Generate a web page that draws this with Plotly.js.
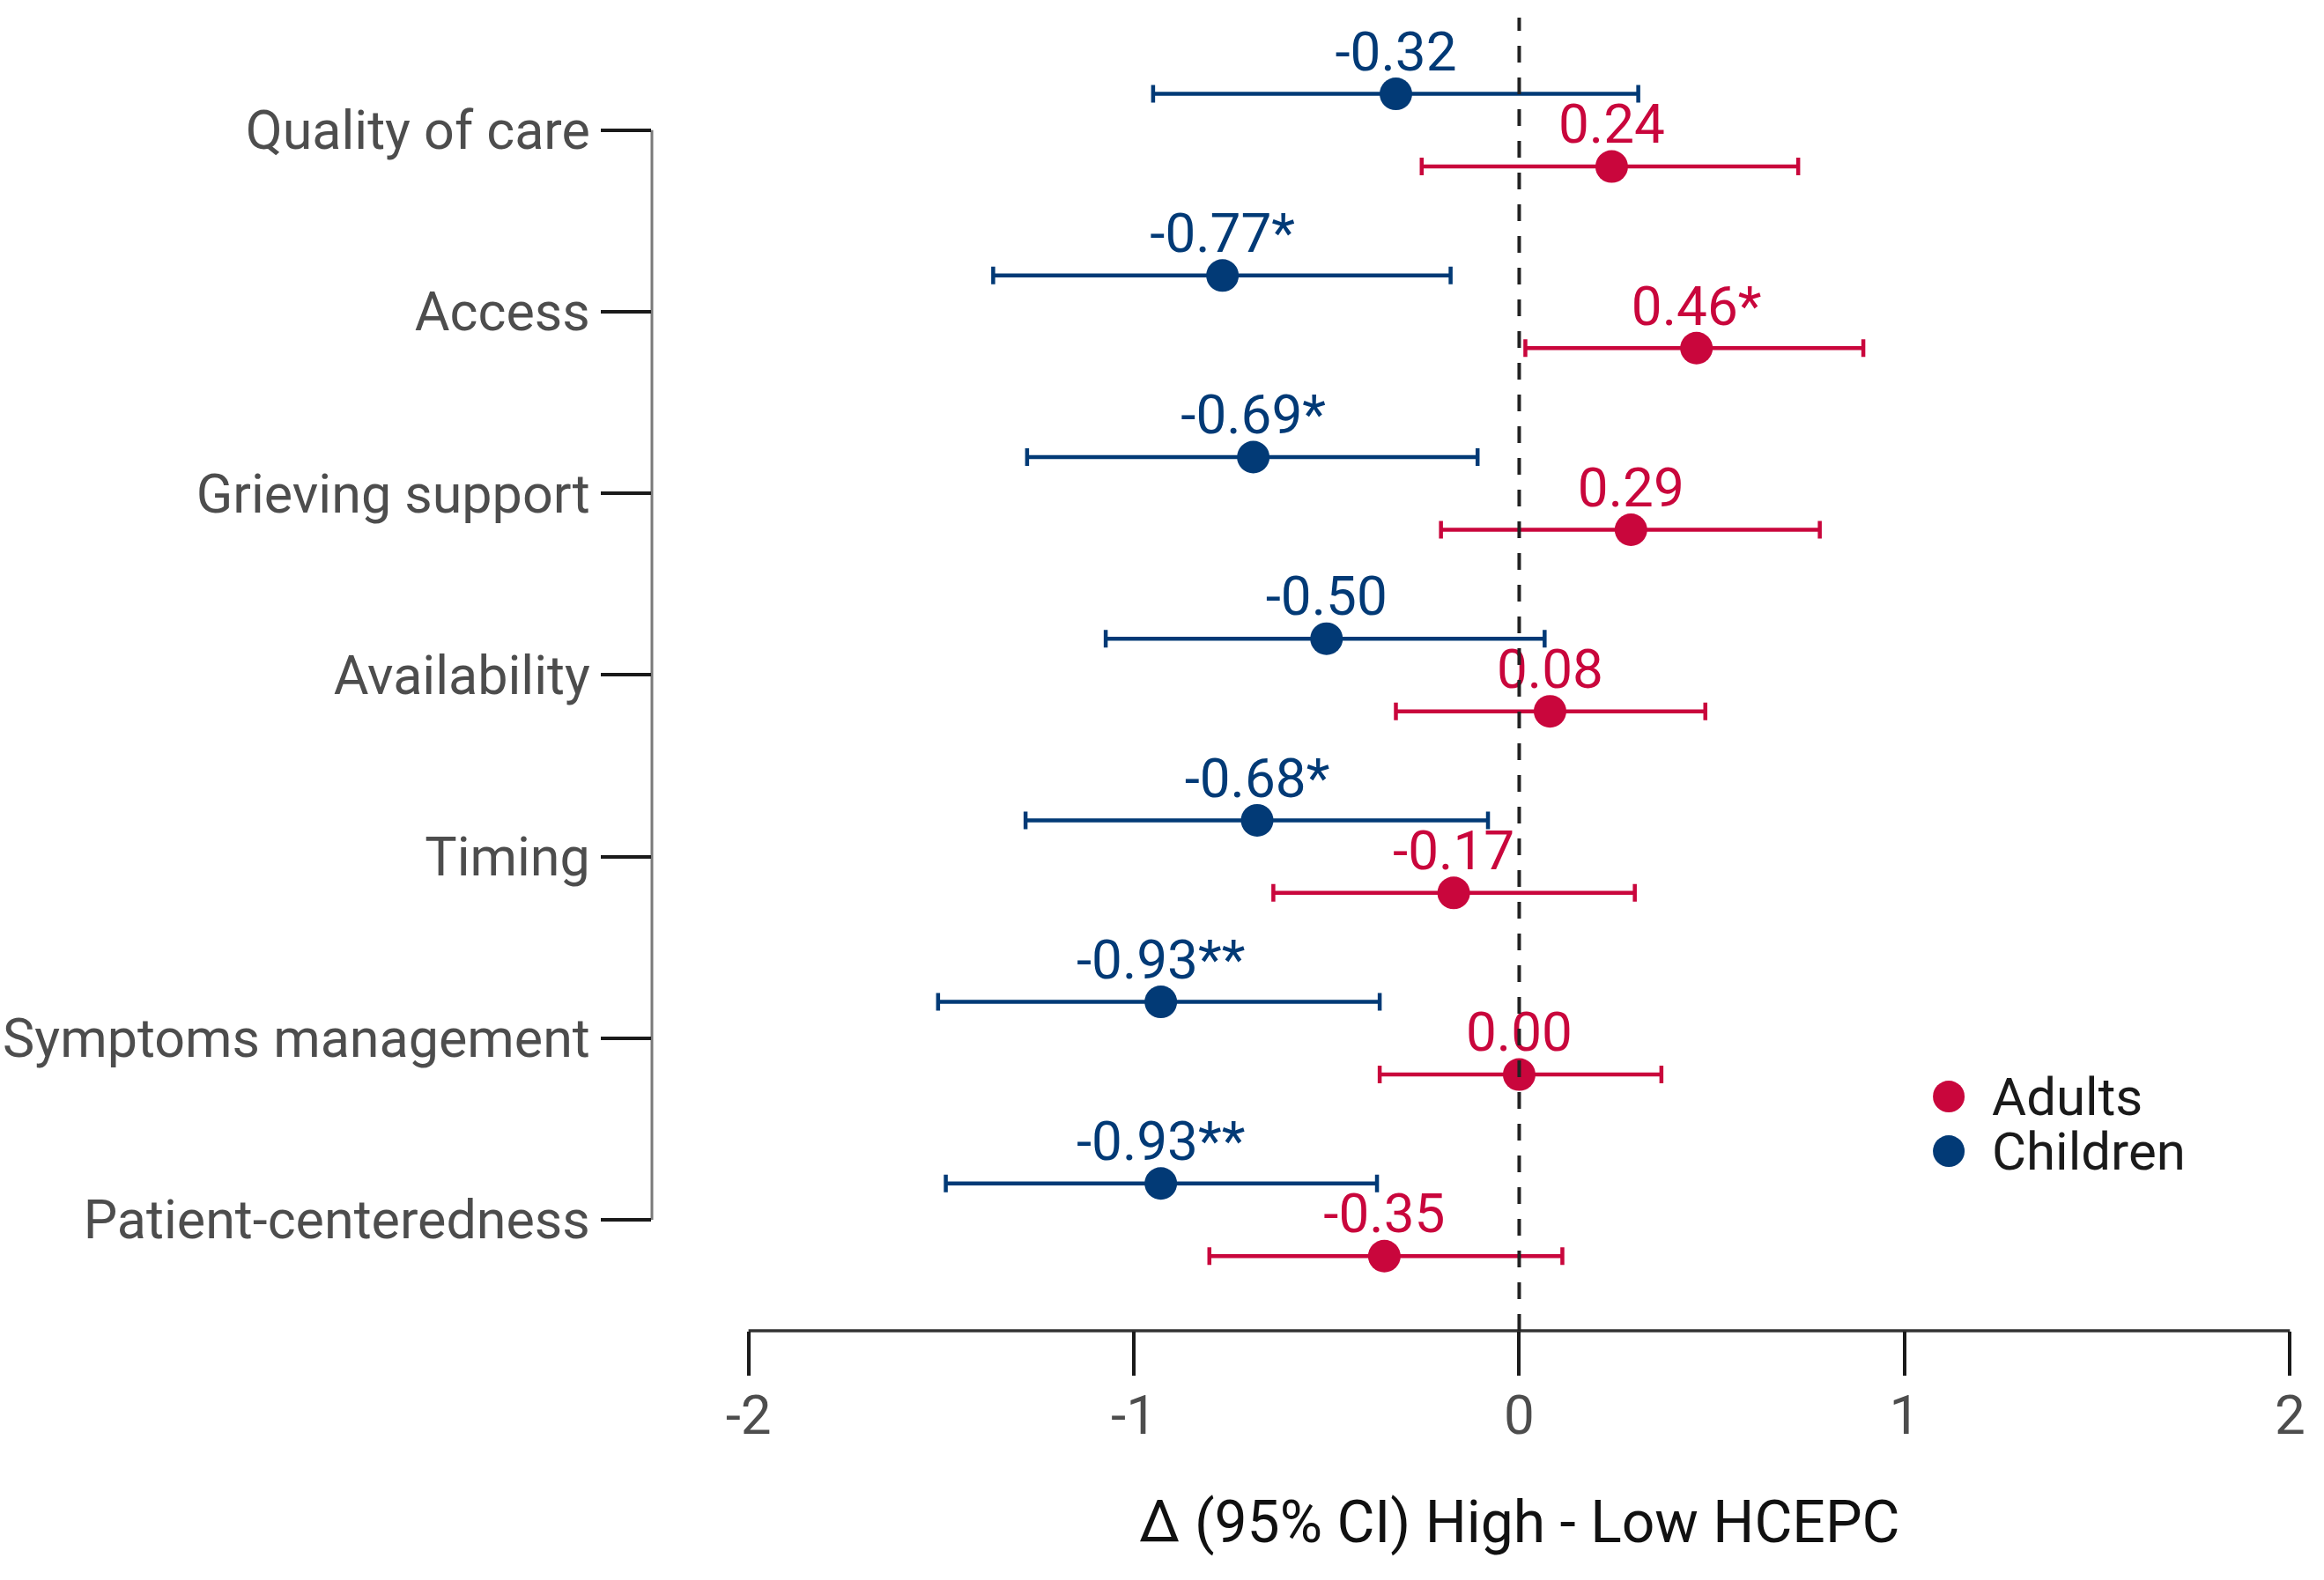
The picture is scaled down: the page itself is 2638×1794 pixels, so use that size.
<!DOCTYPE html>
<html>
<head>
<meta charset="utf-8">
<script src="https://cdn.plot.ly/plotly-3.0.1.min.js"></script>
<style>html,body{margin:0;padding:0;background:#fff;}#chart{width:2638px;height:1794px;}</style>
</head>
<body>
<div id="chart"></div>
<script>
// ---- data (top to bottom) ----
const categories = ["Quality of care", "Access", "Grieving support", "Availability", "Timing", "Symptoms management", "Patient-centeredness"];

const childrenEst   = [-0.32, -0.77, -0.69, -0.50, -0.68, -0.93, -0.93];
const childrenLow   = [-0.95, -1.365, -1.277, -1.073, -1.281, -1.508, -1.488];
const childrenHigh  = [0.309, -0.178, -0.108, 0.066, -0.081, -0.362, -0.369];
const childrenLabel = ["-0.32", "-0.77*", "-0.69*", "-0.50", "-0.68*", "-0.93**", "-0.93**"];

const adultsEst   = [0.24, 0.46, 0.29, 0.08, -0.17, 0.00, -0.35];
const adultsLow   = [-0.253, 0.016, -0.203, -0.320, -0.638, -0.362, -0.804];
const adultsHigh  = [0.724, 0.893, 0.780, 0.483, 0.300, 0.369, 0.112];
const adultsLabel = ["0.24", "0.46*", "0.29", "0.08", "-0.17", "0.00", "-0.35"];

const xTicks = [-2, -1, 0, 1, 2];
const xTitle = "Δ (95% CI) High - Low HCEPC";
const seriesNames = ["Adults", "Children"];

// ---- styling ----
const RED = "#C9063C";
const BLUE = "#023A76";
const FONT = "Roboto, 'Liberation Sans', sans-serif";
const GRAY_TXT = "#4d4d4d";

const n = categories.length;
const basePos = categories.map((c, i) => n - i);
const dodge = 0.2;
const labelLift = 0.205;
const yChildren = basePos.map(v => v + dodge);
const yAdults = basePos.map(v => v - dodge);

function makeTrace(name, est, low, high, ypos, color) {
  return {
    type: "scatter",
    mode: "markers",
    name: name,
    x: est,
    y: ypos,
    marker: {color: color, size: 37, line: {width: 0}},
    error_x: {
      type: "data",
      symmetric: false,
      array: est.map((v, i) => high[i] - v),
      arrayminus: est.map((v, i) => v - low[i]),
      color: color,
      thickness: 4.5,
      width: 10
    },
    cliponaxis: false,
    showlegend: false,
    hoverinfo: "skip"
  };
}
function makeLabels(name, est, labels, ypos, color) {
  return {
    type: "scatter",
    mode: "text",
    name: name + " labels",
    x: est,
    y: ypos.map(v => v + labelLift),
    text: labels,
    textposition: "middle center",
    textfont: {family: FONT, size: 62, color: color},
    cliponaxis: false,
    showlegend: false,
    hoverinfo: "skip"
  };
}

const traces = [
  makeTrace(seriesNames[1], childrenEst, childrenLow, childrenHigh, yChildren, BLUE),
  makeTrace(seriesNames[0], adultsEst, adultsLow, adultsHigh, yAdults, RED),
  makeLabels(seriesNames[1], childrenEst, childrenLabel, yChildren, BLUE),
  makeLabels(seriesNames[0], adultsEst, adultsLabel, yAdults, RED)
];

// legend (manual, to get large dots)
const legendY = [0.1784, 0.1368];
const legendColors = [RED, BLUE];

const shapes = [
  // dashed reference line at 0
  {type: "line", xref: "x", yref: "paper", x0: 0, x1: 0, y0: 0, y1: 1.0,
   line: {color: "#222", width: 4, dash: "19px,17px"}, layer: "above"},
  // truncated y axis line
  {type: "line", xref: "paper", yref: "y", x0: 0, x1: 0, y0: basePos[n - 1], y1: basePos[0],
   line: {color: "#7a7a7a", width: 3}, layer: "below"},
  // truncated x axis line
  {type: "line", xref: "x", yref: "paper", x0: xTicks[0], x1: xTicks[xTicks.length - 1], y0: 0, y1: 0,
   line: {color: "#333", width: 3.5}, layer: "below"}
];
seriesNames.forEach((s, i) => {
  shapes.push({type: "circle", xref: "paper", yref: "paper",
    xsizemode: "pixel", ysizemode: "pixel",
    xanchor: 0.7826, yanchor: legendY[i],
    x0: -18, x1: 18, y0: -18, y1: 18,
    fillcolor: legendColors[i], line: {width: 0}});
});

const annotations = seriesNames.map((s, i) => ({
  text: s, xref: "paper", yref: "paper", x: 0.8076, y: legendY[i],
  xanchor: "left", yanchor: "middle", showarrow: false,
  font: {family: FONT, size: 60, color: "#1a1a1a"}
}));
annotations.push({
  text: xTitle, xref: "x", yref: "paper", x: 0, y: 0,
  xanchor: "center", yanchor: "middle", yshift: -217, showarrow: false,
  font: {family: FONT, size: 66, color: "#111"}
});

const layout = {
  width: 2638, height: 1794,
  margin: {l: 740, r: 17, t: 20, b: 283, pad: 0},
  paper_bgcolor: "#fff", plot_bgcolor: "#fff",
  showlegend: false,
  xaxis: {
    range: [-2.2506, 2.0496],
    tickvals: xTicks,
    ticktext: xTicks.map(String),
    ticks: "outside", ticklen: 50, tickwidth: 4, tickcolor: "#1a1a1a",
    ticklabelstandoff: -8,
    showline: false, showgrid: false, zeroline: false,
    tickfont: {family: FONT, size: 62, color: GRAY_TXT},
    fixedrange: true
  },
  yaxis: {
    range: [0.389, 7.62],
    tickvals: basePos,
    ticktext: categories,
    ticks: "outside", ticklen: 57, tickwidth: 4, tickcolor: "#1a1a1a",
    showline: false, showgrid: false, zeroline: false,
    tickfont: {family: FONT, size: 61, color: GRAY_TXT},
    fixedrange: true
  },
  shapes: shapes,
  annotations: annotations,
  font: {family: FONT}
};

Plotly.newPlot("chart", traces, layout, {displayModeBar: false, staticPlot: true});
</script>
</body>
</html>
